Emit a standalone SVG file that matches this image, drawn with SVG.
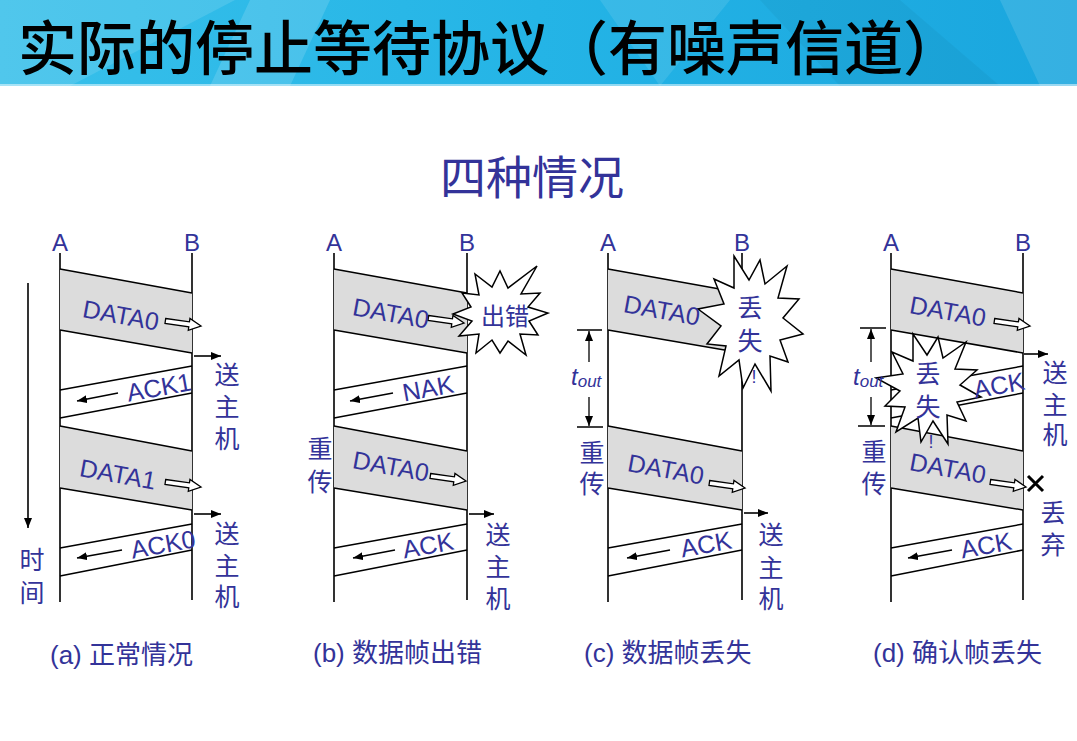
<svg xmlns="http://www.w3.org/2000/svg" width="1077" height="741" viewBox="0 0 1077 741">
  <defs>
    <linearGradient id="hdr" x1="0" y1="0" x2="1" y2="0">
      <stop offset="0" stop-color="#38c0ea"/>
      <stop offset="0.5" stop-color="#24b4e6"/>
      <stop offset="1" stop-color="#1aa6de"/>
    </linearGradient>
    <marker id="ah" viewBox="0 0 10 8" refX="10" refY="4" markerWidth="10" markerHeight="8" markerUnits="userSpaceOnUse" orient="auto">
      <path d="M0,0 L10,4 L0,8 Z" fill="#000"/>
    </marker>
    <path id="hollow" d="M-36,-2.5 H-12 V-6 L0,0 L-12,6 V2.5 H-36 Z"/>
    <style>
      .life { stroke:#000; stroke-width:1.6; fill:none }
      .edge { stroke:#000; stroke-width:1.5; fill:none }
      .data { fill:#dcdcdc; stroke:none }
      .burst { fill:#fff; stroke:#000; stroke-width:1.5; stroke-linejoin:miter }
      .hollow { fill:#fff; stroke:#000; stroke-width:1.3 }
      .arr { stroke:#000; stroke-width:1.6; fill:none; marker-end:url(#ah) }
      .tick { stroke:#000; stroke-width:1.3; fill:none }
      .cross { stroke:#000; stroke-width:3; fill:none }
      .lat { font-family:"Liberation Sans", Arial, sans-serif; fill:#333399 }
      .cjk { font-family:"Liberation Sans", "Noto Sans CJK SC", sans-serif; fill:#333399 }
      .f24 { font-size:24px }
      .f25 { font-size:25px }
      .v { font-size:25px; text-anchor:middle }
      .mid { text-anchor:middle }
      .tout { font-family:"Liberation Sans", Arial, sans-serif; font-style:italic; fill:#333399; font-size:24px }
    </style>
  </defs>

  <!-- header bar -->
  <g id="header">
    <rect x="0" y="0" width="1077" height="86" fill="url(#hdr)"/>
    <polygon points="0,0 235,0 70,86 0,86" fill="#fff" opacity="0.12"/>
    <polygon points="250,0 330,0 290,86 210,86" fill="#fff" opacity="0.14"/>
    <polygon points="600,0 730,0 660,86" fill="#fff" opacity="0.1"/>
    <polygon points="760,0 900,0 1000,86 840,86" fill="#000" opacity="0.04"/>
    <polygon points="1000,0 1077,0 1077,86 1040,86" fill="#fff" opacity="0.12"/>
    <rect x="0" y="84" width="1077" height="2" fill="#fff" opacity="0.5"/>
    <text x="18" y="70" font-family="'Noto Sans CJK SC', sans-serif" font-size="59" font-weight="500" fill="#000">实际的停止等待协议（有噪声信道）</text>
  </g>

  <g id="subtitle">
    <text x="532" y="194" class="cjk mid" font-size="46">四种情况</text>
  </g>

  <!-- lifelines -->
  <g id="lifelines">
    <g id="life-a"><path class="life" d="M60,253 V602 M192,253 V600"/></g>
    <g id="life-b"><path class="life" d="M334,253 V602 M467,253 V600"/></g>
    <g id="life-c"><path class="life" d="M608,253 V602 M742,253 V600"/></g>
    <g id="life-d"><path class="life" d="M891,253 V602 M1023,253 V600"/></g>
  </g>

  <!-- frames in flight -->
  <g id="frames">
    <g id="a-data0"><polygon class="data" points="60,269 192,293 192,353 60,330"/><path class="edge" d="M60,269 L192,293 M60,330 L192,353"/></g>
    <g id="a-ack1"><path class="edge" d="M192,366 L60,390 M192,393 L60,418"/></g>
    <g id="a-data1"><polygon class="data" points="60,426 192,451 192,510 60,488"/><path class="edge" d="M60,426 L192,451 M60,488 L192,510"/></g>
    <g id="a-ack0"><path class="edge" d="M192,524 L60,548 M192,550 L60,576"/></g>

    <g id="b-data0"><polygon class="data" points="334,269 467,293 467,353 334,330"/><path class="edge" d="M334,269 L467,293 M334,330 L467,353"/></g>
    <g id="b-nak"><path class="edge" d="M467,366 L334,390 M467,393 L334,418"/></g>
    <g id="b-data0-re"><polygon class="data" points="334,426 467,451 467,510 334,488"/><path class="edge" d="M334,426 L467,451 M334,488 L467,510"/></g>
    <g id="b-ack"><path class="edge" d="M467,524 L334,548 M467,550 L334,576"/></g>

    <g id="c-data0"><polygon class="data" points="608,269 742,293 742,353 608,330"/><path class="edge" d="M608,269 L742,293 M608,330 L742,353"/></g>
    <g id="c-data0-re"><polygon class="data" points="608,426 742,451 742,510 608,488"/><path class="edge" d="M608,426 L742,451 M608,488 L742,510"/></g>
    <g id="c-ack"><path class="edge" d="M742,524 L608,548 M742,550 L608,576"/></g>

    <g id="d-data0"><polygon class="data" points="891,269 1023,293 1023,353 891,330"/><path class="edge" d="M891,269 L1023,293 M891,330 L1023,353"/></g>
    <g id="d-ack-lost"><path class="edge" d="M1023,366 L891,390 M1023,393 L891,418"/></g>
    <g id="d-data0-re"><polygon class="data" points="891,426 1023,451 1023,510 891,488"/><path class="edge" d="M891,426 L1023,451 M891,488 L1023,510"/></g>
    <g id="d-ack"><path class="edge" d="M1023,524 L891,548 M1023,550 L891,576"/></g>
  </g>

  <!-- error / loss bursts -->
  <g id="bursts">
    <g id="burst-b">
      <polygon class="burst" points="548,313 529,321 538,335 520,334 526,355 508,341 500,353 492,340 476,353 479,334 459,336 472,321 453,314 471,307 462,293 479,295 475,274 492,287 500,271 508,288 537,266 521,294 540,293 528,307"/>
      <text x="505" y="325" class="cjk mid" font-size="24">出错</text>
    </g>
    <g id="burst-c">
      <polygon class="burst" points="803,334 780,340 788,362 770,356 771,391 755,364 743,388 739,360 719,376 726,346 707,344 721,326 698,309 724,304 714,279 734,288 734,256 749,280 760,260 765,284 787,266 778,298 799,299 783,318"/>
      <text x="750" y="317" class="cjk v">丢</text>
      <text x="750" y="350" class="cjk v">失</text>
      <text x="754" y="383" class="lat mid" font-size="18">!</text>
    </g>
    <g id="burst-d">
      <polygon class="burst" points="981,397 957,402 966,421 947,415 948,444 933,421 921,442 918,418 896,432 905,407 885,406 900,391 876,378 903,374 892,352 913,361 913,334 927,355 938,337 943,358 966,342 955,369 977,370 960,385"/>
      <text x="928" y="383" class="cjk v">丢</text>
      <text x="928" y="416" class="cjk v">失</text>
      <text x="931" y="448" class="lat mid" font-size="18">!</text>
    </g>
  </g>

  <!-- arrows -->
  <g id="connectors">
    <path class="arr" d="M28,283 V528"/>
    <use href="#hollow" class="hollow" transform="translate(201,326) rotate(8)"/>
    <use href="#hollow" class="hollow" transform="translate(201,487) rotate(8)"/>
    <use href="#hollow" class="hollow" transform="translate(464,323) rotate(8)"/>
    <use href="#hollow" class="hollow" transform="translate(466,481) rotate(8)"/>
    <use href="#hollow" class="hollow" transform="translate(745,488) rotate(8)"/>
    <use href="#hollow" class="hollow" transform="translate(1030,326) rotate(8)"/>
    <use href="#hollow" class="hollow" transform="translate(1026,487) rotate(8)"/>

    <path class="arr" d="M194,356 H221"/>
    <path class="arr" d="M194,514 H221"/>
    <path class="arr" d="M469,514 H494"/>
    <path class="arr" d="M744,513 H768"/>
    <path class="arr" d="M1024,354 H1048"/>

    <path class="arr" d="M118,393 L77,401"/>
    <path class="arr" d="M122,550 L77,558"/>
    <path class="arr" d="M393,393 L350,401"/>
    <path class="arr" d="M395,550 L353,558"/>
    <path class="arr" d="M670,550 L627,558"/>
    <path class="arr" d="M952,550 L908,558"/>

    <path class="cross" d="M1028,476 L1043,491 M1043,476 L1028,491"/>
  </g>

  <!-- timeout spans -->
  <g id="timeout-c">
    <path class="tick" d="M577,330 H602 M577,427 H603"/>
    <path class="arr" d="M589,362 V331" style="stroke-width:1.3"/>
    <path class="arr" d="M589,397 V426" style="stroke-width:1.3"/>
    <text x="571" y="385" class="tout">t<tspan font-size="17" dy="2">out</tspan></text>
  </g>
  <g id="timeout-d">
    <path class="tick" d="M860,328 H886 M858,426 H885"/>
    <path class="arr" d="M871,362 V329" style="stroke-width:1.3"/>
    <path class="arr" d="M871,397 V425" style="stroke-width:1.3"/>
    <text x="853" y="385" class="tout">t<tspan font-size="17" dy="2">out</tspan></text>
  </g>

  <!-- labels -->
  <g id="labels">
    <g id="ab-labels" class="lat f24">
      <text x="60" y="251" text-anchor="middle">A</text><text x="192" y="251" text-anchor="middle">B</text>
      <text x="334" y="251" text-anchor="middle">A</text><text x="467" y="251" text-anchor="middle">B</text>
      <text x="608" y="251" text-anchor="middle">A</text><text x="742" y="251" text-anchor="middle">B</text>
      <text x="891" y="251" text-anchor="middle">A</text><text x="1023" y="251" text-anchor="middle">B</text>
    </g>

    <g id="frame-labels" class="lat f25">
      <text transform="translate(121,315) rotate(10.3)" y="9" text-anchor="middle">DATA0</text>
      <text transform="translate(159,387) rotate(-10.3)" y="9" text-anchor="middle">ACK1</text>
      <text transform="translate(118,474) rotate(10.3)" y="9" text-anchor="middle">DATA1</text>
      <text transform="translate(163,544) rotate(-10.3)" y="9" text-anchor="middle">ACK0</text>

      <text transform="translate(391,313) rotate(10.3)" y="9" text-anchor="middle">DATA0</text>
      <text transform="translate(428,388) rotate(-10.3)" y="9" text-anchor="middle">NAK</text>
      <text transform="translate(391,466) rotate(10.3)" y="9" text-anchor="middle">DATA0</text>
      <text transform="translate(428,545) rotate(-10.3)" y="9" text-anchor="middle">ACK</text>

      <text transform="translate(662,310) rotate(10.3)" y="9" text-anchor="middle">DATA0</text>
      <text transform="translate(666,469) rotate(10.3)" y="9" text-anchor="middle">DATA0</text>
      <text transform="translate(706,544) rotate(-10.3)" y="9" text-anchor="middle">ACK</text>

      <text transform="translate(948,311) rotate(10.3)" y="9" text-anchor="middle">DATA0</text>
      <text transform="translate(999,385) rotate(-10.3)" y="9" text-anchor="middle">ACK</text>
      <text transform="translate(948,468) rotate(10.3)" y="9" text-anchor="middle">DATA0</text>
      <text transform="translate(986,545) rotate(-10.3)" y="9" text-anchor="middle">ACK</text>
    </g>

    <g id="side-labels" class="cjk v">
      <text x="227" y="384">送</text><text x="227" y="416">主</text><text x="227" y="448">机</text>
      <text x="227" y="543">送</text><text x="227" y="575">主</text><text x="227" y="606">机</text>
      <text x="32" y="569">时</text><text x="32" y="602">间</text>

      <text x="320" y="458">重</text><text x="320" y="491">传</text>
      <text x="498" y="544">送</text><text x="498" y="576">主</text><text x="498" y="608">机</text>

      <text x="592" y="462">重</text><text x="592" y="493">传</text>
      <text x="771" y="544">送</text><text x="771" y="577">主</text><text x="771" y="608">机</text>

      <text x="874" y="461">重</text><text x="874" y="493">传</text>
      <text x="1055" y="382">送</text><text x="1055" y="414">主</text><text x="1055" y="444">机</text>
      <text x="1053" y="522">丢</text><text x="1053" y="554">弃</text>
    </g>

    <g id="captions" class="cjk" font-size="26">
      <text x="50" y="664">(a) 正常情况</text>
      <text x="313" y="662">(b) 数据帧出错</text>
      <text x="584" y="662">(c) 数据帧丢失</text>
      <text x="873" y="662">(d) 确认帧丢失</text>
    </g>
  </g>
</svg>
